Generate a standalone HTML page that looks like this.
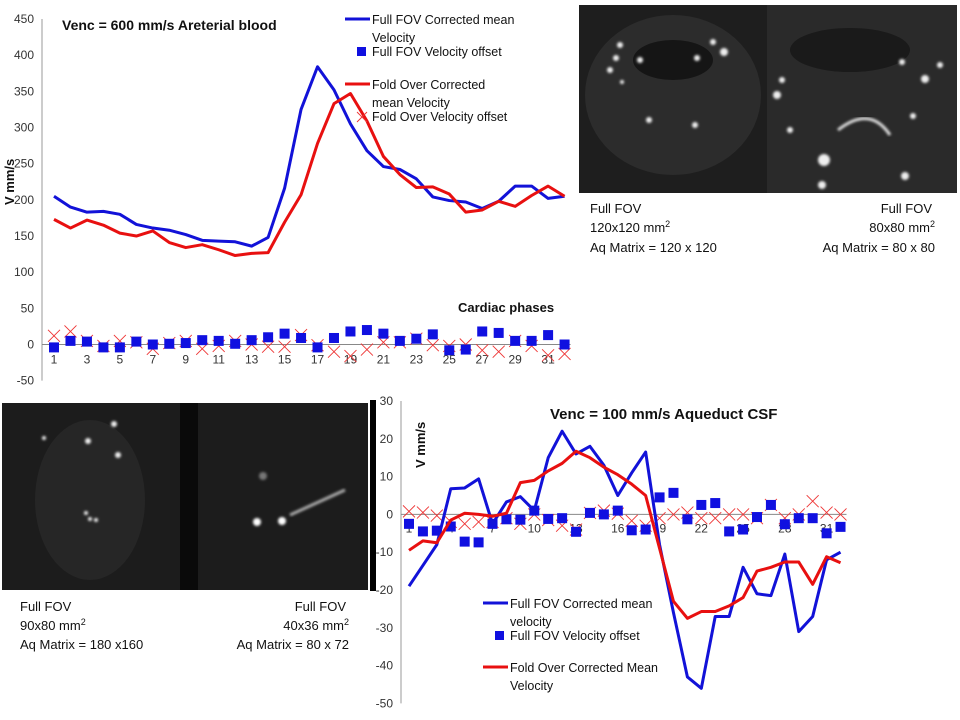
<!DOCTYPE html>
<html><head><meta charset="utf-8"><style>
body{margin:0;background:#fff;}
svg{display:block;font-family:"Liberation Sans",sans-serif;}
</style></head><body>
<svg id="s" width="960" height="720" viewBox="0 0 960 720">
<defs>
<filter id="bl"><feGaussianBlur stdDeviation="1.2"/></filter>
</defs>
<g>
<rect x="579" y="5" width="188" height="188" fill="#1e1e1e"/>
<ellipse cx="673" cy="95" rx="88" ry="80" fill="#2c2c2c"/>
<ellipse cx="673" cy="60" rx="40" ry="20" fill="#151515"/>
<g fill="#eee" filter="url(#bl)"><circle cx="620" cy="45" r="3"/><circle cx="616" cy="58" r="3"/><circle cx="640" cy="60" r="3"/><circle cx="713" cy="42" r="3"/><circle cx="724" cy="52" r="4"/><circle cx="697" cy="58" r="3"/><circle cx="610" cy="70" r="3"/><circle cx="649" cy="120" r="3"/><circle cx="695" cy="125" r="3"/><circle cx="622" cy="82" r="2"/></g>
</g>
<g>
<rect x="767" y="5" width="190" height="188" fill="#2a2a2a"/>
<ellipse cx="850" cy="50" rx="60" ry="22" fill="#1a1a1a"/>
<path d="M838 130 Q870 105 890 135" stroke="#ddd" stroke-width="3" fill="none" filter="url(#bl)"/>
<g fill="#eee" filter="url(#bl)"><circle cx="777" cy="95" r="4"/><circle cx="782" cy="80" r="3"/><circle cx="925" cy="79" r="4"/><circle cx="902" cy="62" r="3"/><circle cx="913" cy="116" r="3"/><circle cx="824" cy="160" r="6"/><circle cx="822" cy="185" r="4"/><circle cx="905" cy="176" r="4"/><circle cx="790" cy="130" r="3"/><circle cx="940" cy="65" r="3"/></g>
</g>
<g>
<rect x="2" y="403" width="178" height="187" fill="#1c1c1c"/>
<ellipse cx="90" cy="500" rx="55" ry="80" fill="#262626"/>
<g fill="#eee" filter="url(#bl)"><circle cx="114" cy="424" r="3"/><circle cx="88" cy="441" r="3"/><circle cx="118" cy="455" r="3"/><circle cx="86" cy="513" r="2"/><circle cx="90" cy="519" r="2"/><circle cx="96" cy="520" r="2"/><circle cx="44" cy="438" r="2"/></g>
</g>
<rect x="180" y="403" width="18" height="187" fill="#0a0a0a"/>
<g>
<rect x="198" y="403" width="170" height="187" fill="#1c1c1c"/>
<g fill="#fff" filter="url(#bl)"><circle cx="257" cy="522" r="4"/><circle cx="282" cy="521" r="4"/><circle cx="263" cy="476" r="4" opacity=".4"/></g>
<path d="M290 515 L345 490" stroke="#aaa" stroke-width="3" filter="url(#bl)"/>
</g>
<rect x="370" y="400" width="6" height="191" fill="#000"/>
<g font-size="13" fill="#111">
<text x="590" y="213">Full FOV</text><text x="590" y="232">120x120 mm<tspan font-size="9" dy="-5">2</tspan></text><text x="590" y="252">Aq Matrix = 120 x 120</text>
</g>
<g font-size="13" fill="#111" text-anchor="end">
<text x="932" y="213">Full FOV</text><text x="935" y="232">80x80 mm<tspan font-size="9" dy="-5">2</tspan></text><text x="935" y="252">Aq Matrix = 80 x 80</text>
</g>
<g font-size="13" fill="#111">
<text x="20" y="611">Full FOV</text><text x="20" y="630">90x80 mm<tspan font-size="9" dy="-5">2</tspan></text><text x="20" y="649">Aq  Matrix = 180 x160</text>
</g>
<g font-size="13" fill="#111" text-anchor="end">
<text x="346" y="611">Full FOV</text><text x="349" y="630">40x36 mm<tspan font-size="9" dy="-5">2</tspan></text><text x="349" y="649">Aq Matrix = 80 x 72</text>
</g>
<g id="c1"></g>
<g id="c2"></g>
</svg>
<script>
const phases = Array.from({length:32},(_,i)=>i+1);
const artBlue = [205,190,183,184,180,166,161,158,152,144,143,142,136,148,216,325,384,352,305,268,246,242,229,204,199,197,188,198,219,219,202,205];
const artRed = [173,161,172,165,154,150,157,141,134,138,131,123,126,127,169,207,278,333,347,309,260,235,217,218,208,183,186,198,191,206,219,205];
const artBlueOff = [-4,5,4,-4,-4,4,0,1,2,6,5,1,6,10,15,9,-4,9,18,20,15,5,8,14,-8,-7,18,16,5,5,13,0];
const artRedOff = [12,18,5,-2,5,3,-6,2,5,-6,-2,5,0,-3,-3,13,-1,-10,-16,-7,3,3,8,-1,-2,0,-8,-10,5,-2,-15,-13];
const artTicks = [450,400,350,300,250,200,150,100,50,0,-50];
const csfBlue = [-19,-13.5,-8,6.8,7,9.4,-2.5,3.3,4.7,1,15,22,16,18,13,5,11,16.5,-8,-26,-43,-46,-27,-27,-14,-21,-21.5,-10.5,-31,-27,-12,-10];
const csfRed = [-9.5,-7,-7.5,-1.5,0.3,0,-0.5,0.3,8.4,9,11.5,13.5,16.7,15,12.5,10.5,8,5,-9,-23,-27.5,-25.7,-25.7,-24.2,-22,-15,-14,-12.6,-12.6,-18.5,-11.2,-12.8];
const csfBlueOff = [-2.5,-4.5,-4.3,-3.2,-7.2,-7.4,-2.5,-1.3,-1.4,1,-1.2,-1,-4.6,0.4,0,1,-4.2,-4,4.5,5.7,-1.3,2.5,3,-4.5,-4,-0.7,2.5,-2.6,-1,-1,-5,-3.3];
const csfRedOff = [0.8,0.5,-0.3,-2,-2.5,-2,-2,-1,-2.5,0,-1.5,-3,-4,0.4,1,0.2,-1.7,-3,-1,0,0.5,-1,-1,0,0,-1,2.5,-1,0,3.5,0.5,0];
const csfTicks = [30,20,10,0,-10,-20,-30,-40,-50];
const NS='http://www.w3.org/2000/svg';
function mk(p,tag,a,txt){const e=document.createElementNS(NS,tag);for(const k in a)e.setAttribute(k,a[k]);if(txt!==undefined)e.textContent=txt;p.appendChild(e);return e;}
function chart(g,o){
  const X=i=>o.x1+(i-1)*o.dx, Y=v=>o.y0-v*o.k;
  const ax=mk(g,'line',{x1:o.ax,x2:o.ax,y1:Y(o.ticks[0]),y2:Y(o.ticks[o.ticks.length-1]),stroke:'#999'});
  
  
  const zx=mk(g,'line',{x1:o.ax,x2:X(32)+6,y1:Y(0),y2:Y(0),stroke:'#888'});
  
  
  o.ticks.forEach(t=>{const e=mk(g,'text',{x:o.ax-8,y:Y(t)+4,'text-anchor':'end','font-size':12,fill:'#333'},String(t));
    
    });
  phases.forEach(p=>{if((p-1)%o.lstep===0){const e=mk(g,'text',{x:X(p),y:Y(0)+o.ly,'text-anchor':'middle','font-size':12,fill:'#333'},String(p));
    
    }});
  o.redOff.forEach((v,i)=>{const x=X(i+1),y=Y(v),s=6;const e=mk(g,'path',{d:`M${x-s} ${y-s}L${x+s} ${y+s}M${x+s} ${y-s}L${x-s} ${y+s}`,stroke:'#e33',fill:'none','stroke-width':0.9});
    
    });
  o.blueOff.forEach((v,i)=>{const e=mk(g,'rect',{x:X(i+1)-5,y:Y(v)-5,width:10,height:10,fill:'#1010e0'});
    
    });
  const pb=mk(g,'polyline',{points:o.blue.map((v,i)=>X(i+1)+','+Y(v)).join(' '),fill:'none',stroke:'#1212d8','stroke-width':3,'stroke-linejoin':'round'});
  
  
  const pr=mk(g,'polyline',{points:o.red.map((v,i)=>X(i+1)+','+Y(v)).join(' '),fill:'none',stroke:'#e81010','stroke-width':3,'stroke-linejoin':'round'});
  
  
}
const g1=document.getElementById('c1'),g2=document.getElementById('c2');
chart(g1,{x1:54,dx:16.47,y0:344.5,k:0.7233,ax:42,ticks:artTicks,lstep:2,ly:19,blue:artBlue,red:artRed,blueOff:artBlueOff,redOff:artRedOff});
chart(g2,{x1:409,dx:13.92,y0:514.4,k:3.78,ax:401,ticks:csfTicks,lstep:3,ly:18,blue:csfBlue,red:csfRed,blueOff:csfBlueOff,redOff:csfRedOff});
function leg(g,items){items.forEach(it=>{let e;
  if(it.t==='line'){e=mk(g,'line',{x1:it.x,x2:it.x+25,y1:it.y,y2:it.y,stroke:it.c,'stroke-width':3});}
  else if(it.t==='sq'){e=mk(g,'rect',{x:it.x+7,y:it.y-5,width:9,height:9,fill:'#1010e0'});}
  else if(it.t==='x'){e=mk(g,'path',{d:`M${it.x+7} ${it.y-5}l10 10m0 -10l-10 10`,stroke:'#e33','stroke-width':0.9});}
  else {e=mk(g,'text',{x:it.x,y:it.y,'font-size':12.5,fill:'#111'},it.s);}
  
  });}
leg(g1,[{t:'line',x:345,y:19,c:'#1212d8'},{x:372,y:24,s:'Full FOV Corrected mean'},{x:372,y:42,s:'Velocity'},
 {t:'sq',x:350,y:52},{x:372,y:56,s:'Full FOV Velocity offset'},{t:'line',x:345,y:84,c:'#e81010'},{x:372,y:89,s:'Fold Over Corrected'},
 {x:372,y:107,s:'mean Velocity'},{t:'x',x:350,y:117},{x:372,y:121,s:'Fold Over Velocity offset'}]);
leg(g2,[{t:'line',x:483,y:603,c:'#1212d8'},{x:510,y:608,s:'Full FOV Corrected mean'},{x:510,y:626,s:'velocity'},
 {t:'sq',x:488,y:636},{x:510,y:640,s:'Full FOV Velocity offset'},{t:'line',x:483,y:667,c:'#e81010'},{x:510,y:672,s:'Fold Over Corrected Mean'},{x:510,y:690,s:'Velocity'}]);
let t;
t=mk(g1,'text',{x:62,y:30,'font-size':14,'font-weight':'bold',fill:'#111'},'Venc = 600 mm/s  Areterial blood');


t=mk(g1,'text',{x:458,y:312,'font-size':13,'font-weight':'bold',fill:'#111'},'Cardiac phases');


t=mk(g1,'text',{x:0,y:0,'font-size':13,'font-weight':'bold',fill:'#111',transform:'translate(14,205) rotate(-90)'},'V   mm/s');


t=mk(g2,'text',{x:550,y:419,'font-size':15,'font-weight':'bold',fill:'#111'},'Venc = 100 mm/s   Aqueduct CSF');


t=mk(g2,'text',{x:0,y:0,'font-size':13,'font-weight':'bold',fill:'#111',transform:'translate(425,468) rotate(-90)'},'V   mm/s');


</script>
</body></html>
